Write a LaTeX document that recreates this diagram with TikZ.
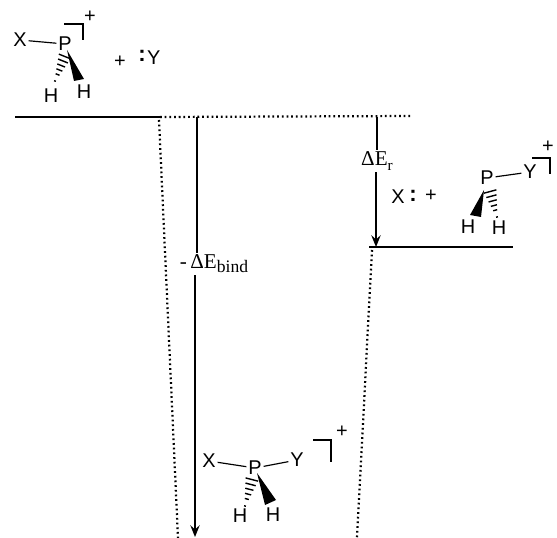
\documentclass[tikz,border=0pt]{standalone}
\usepackage{fontspec}
\setmainfont{Liberation Sans}
\newfontfamily\energyfont{Liberation Serif}
\usepackage{tikz}
\usetikzlibrary{calc,arrows.meta}
\newcommand{\hashbond}[2]{%
  \foreach \t/\w in {0.02/5.5,0.2/4.5,0.38/3.6,0.56/2.7,0.74/1.8,1/0.8}
    \draw[line width=1.2pt] ($(#1)!\t!(#2)+(#1)!\w pt!90:(#2)-(#1)$) -- ($(#1)!\t!(#2)+(#1)!\w pt!-90:(#2)-(#1)$);}
\newcommand{\lowtext}[2]{\raisebox{-3.5pt}{\fontsize{#1}{#1}\selectfont #2}}
\begin{document}
\begin{tikzpicture}[x=0.03cm,y=-0.03cm,
    atom/.style={font=\fontsize{17}{17}\selectfont, inner sep=1.5pt},
    charge/.style={font=\fontsize{17}{17}\selectfont, inner sep=0pt},
    pair/.style={font=\fontsize{19}{19}\selectfont\bfseries, inner sep=0pt},
    energy/.style={font=\energyfont\fontsize{18}{18}\selectfont, inner sep=1.5pt},
    bond/.style={line width=1pt},
    bracket/.style={line width=1.1pt},
    wedge/.style={fill=black},
    level/.style={line width=1.8pt},
    guide/.style={line width=1.9pt, dash pattern=on 1.5pt off 2.5pt},
    gap/.style={line width=1.4pt},
    gaparrow/.style={gap, -{Stealth[length=10pt,width=8pt,inset=3.5pt]}}]
  \useasboundingbox (0,0) rectangle (557,538);
  % reactants
  \node[atom] (xa) at (20,40) {X};
  \node[atom] (pa) at (65,44) {P};
  \node[atom] (ha) at (51,96) {H};
  \node[atom] (hb) at (84,92) {H};
  \node[charge] (qa) at (90,17) {+};
  \node[charge] (plusa) at (120,62) {+};
  \node[pair] (pairy) at (142,56) {:};
  \node[atom, anchor=west, inner sep=0pt] (ya) at (147,58) {Y};
  \draw[bond] (xa) -- (pa);
  \fill[wedge] (67,50) -- (74,81) -- (84,79) -- cycle;
  \coordinate (hashatip) at (65,56);
  \coordinate (hashaend) at (55,81);
  \hashbond{hashatip}{hashaend}
  \draw[bracket] (64,24) -- (83,24) -- (83,40);
  % products
  \node[atom] (xc) at (398,197) {X};
  \node[pair] (pairx) at (413,196) {:};
  \node[charge] (plusc) at (431,196) {+};
  \node[atom] (pc) at (487,178) {P};
  \node[atom] (yc) at (530,172) {Y};
  \node[atom] (hc) at (468,227) {H};
  \node[atom] (hd) at (499,228) {H};
  \node[charge] (qc) at (548,147) {+};
  \draw[bond] (pc) -- (yc);
  \fill[wedge] (484,190) -- (470,215) -- (481,217) -- cycle;
  \coordinate (hashctip) at (490,191);
  \coordinate (hashcend) at (497,217);
  \hashbond{hashctip}{hashcend}
  \draw[bracket] (532,158) -- (550,158) -- (550,174);
  % complex
  \node[atom] (xb) at (209,461) {X};
  \node[atom] (pb) at (255,468) {P};
  \node[atom] (yb) at (297,460) {Y};
  \node[atom] (hp) at (240,516) {H};
  \node[atom] (hq) at (273,515) {H};
  \node[charge] (qb) at (342,432) {+};
  \draw[bond] (xb) -- (pb);
  \draw[bond] (pb) -- (yb);
  \fill[wedge] (257,473) -- (265,505) -- (276,500) -- cycle;
  \coordinate (hashbtip) at (252,479);
  \coordinate (hashbend) at (245,506);
  \hashbond{hashbtip}{hashbend}
  \draw[bracket] (313,440) -- (331,440) -- (331,462);
  % levels
  \coordinate (startl) at (15,117);
  \coordinate (startr) at (160,117);
  \coordinate (endl) at (369,247);
  \coordinate (endr) at (513,247);
  \coordinate (dotr) at (412,116);
  \coordinate (wella) at (159,120);
  \coordinate (wellb) at (178,538);
  \coordinate (wellc) at (372,250);
  \coordinate (welld) at (357,538);
  \draw[level] (startl) -- (startr);
  \draw[level] (endl) -- (endr);
  \draw[guide] (startr) -- (dotr);
  \draw[guide] (wella) -- (wellb);
  \draw[guide] (wellc) -- (welld);
  % energies
  \coordinate (bindtop) at (197,117);
  \coordinate (bindbot) at (195,537);
  \coordinate (rtop) at (377,117);
  \coordinate (rbot) at (376,247);
  \node[energy] (bind) at (214,264) {-\,ΔE\lowtext{15}{bind}};
  \node[energy] (er) at (377,161) {ΔE\lowtext{13}{r}};
  \draw[gap] (bindtop) -- (bindtop |- bind.north);
  \draw[gaparrow] (bindbot |- bind.south) -- (bindbot);
  \draw[gap] (rtop) -- (rtop |- er.north);
  \draw[gaparrow] (rbot |- er.south) -- (rbot);
\end{tikzpicture}
\end{document}
